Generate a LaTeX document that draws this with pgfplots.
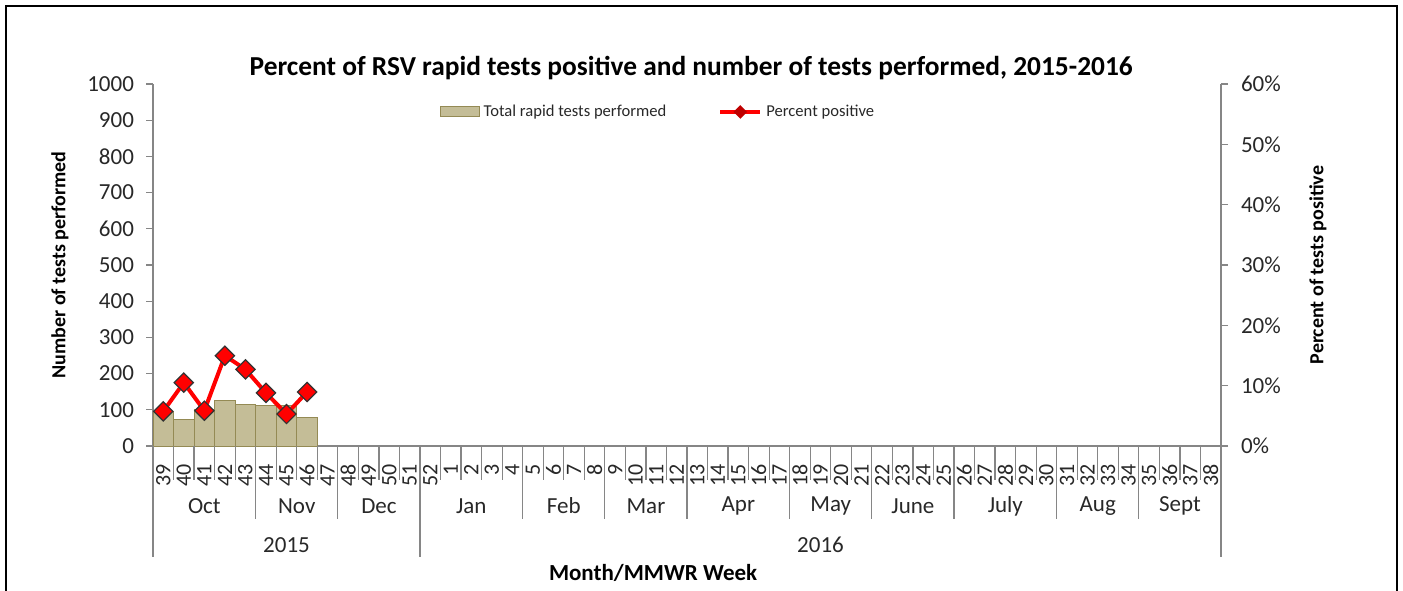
\documentclass[border=0pt]{standalone}
\usepackage{fontspec}
\setmainfont{Carlito}
\usepackage{pgfplots}
\pgfplotsset{compat=1.18}
\definecolor{tanfill}{RGB}{196,189,151}
\definecolor{tanedge}{RGB}{148,138,84}
\definecolor{axgray}{RGB}{134,134,134}
\definecolor{txt}{RGB}{40,40,40}
\begin{document}
\begin{tikzpicture}
\useasboundingbox (0,0) rectangle (701.5pt,295pt);
\draw[line width=1.2pt] (3pt,-2pt) -- (3pt,292pt) -- (698.5pt,292pt) -- (698.5pt,-2pt);
\pgfplotsset{
  common/.style={
    at={(76.5pt,72pt)}, anchor=south west,
    scale only axis, width=534pt, height=181pt,
    xmin=-0.5, xmax=51.5,
    clip=false,
    /pgf/number format/assume math mode=true,
    /pgf/number format/1000 sep={},
    axis line style={axgray, line width=0.6pt},
    tick align=outside,
    major tick length=3.5pt,
    every tick/.style={axgray, line width=0.6pt},
    yticklabel style={font=\fontsize{11.5}{13}\selectfont, text=txt},
  }
}
\begin{axis}[common,
  ymin=0, ymax=1000, ytick={0,100,...,1000},
  axis y line*=left, axis x line*=bottom,
  yticklabel style={xshift=-2.5pt},
  xtick={0,...,51},
  xticklabels={39,40,41,42,43,44,45,46,47,48,49,50,51,52,1,2,3,4,5,6,7,8,9,10,11,12,13,14,15,16,17,18,19,20,21,22,23,24,25,26,27,28,29,30,31,32,33,34,35,36,37,38},
  xtick style={draw=none},
  xticklabel style={rotate=90, anchor=east, font=\fontsize{11}{12}\selectfont, text=txt, xshift=-2pt},
  every axis y label/.style={at={(axis description cs:-0.0871,0.5)}, anchor=center, rotate=90, font=\bfseries\fontsize{10}{12}\selectfont},
  ylabel={Number of tests performed},
  title={Percent of RSV rapid tests positive and number of tests performed, 2015-2016},
  every axis title/.style={at={(axis description cs:0.504,1.044)}, anchor=center, font=\bfseries\fontsize{13.7}{16}\selectfont},
]
\addplot[ybar, bar width=1, fill=tanfill, draw=tanedge, line width=0.5pt]
  coordinates {(0,95) (1,74) (2,102) (3,127) (4,116) (5,113) (6,111) (7,79)};
\pgfplotsinvokeforeach{-0.5,0.5,...,51.5}{\draw[axgray, line width=0.6pt] (axis cs:#1,0) -- ([yshift=-17pt]axis cs:#1,0);}
\pgfplotsinvokeforeach{4.5,8.5,17.5,21.5,25.5,30.5,34.5,38.5,43.5,47.5}{\draw[axgray, line width=0.6pt] (axis cs:#1,0) -- ([yshift=-36.5pt]axis cs:#1,0);}
\pgfplotsinvokeforeach{-0.5,12.5,51.5}{\draw[axgray, line width=0.6pt] (axis cs:#1,0) -- ([yshift=-55.5pt]axis cs:#1,0);}
\tikzset{mlab/.style={font=\fontsize{11.5}{13}\selectfont, text=txt, anchor=center}}
\node[mlab] at ([yshift=-30pt]axis cs:2,0) {Oct};
\node[mlab] at ([yshift=-30pt]axis cs:6.5,0) {Nov};
\node[mlab] at ([yshift=-30pt]axis cs:10.5,0) {Dec};
\node[mlab] at ([yshift=-30pt]axis cs:15,0) {Jan};
\node[mlab] at ([yshift=-30pt]axis cs:19.5,0) {Feb};
\node[mlab] at ([yshift=-30pt]axis cs:23.5,0) {Mar};
\node[mlab] at ([yshift=-30pt]axis cs:28,0) {Apr};
\node[mlab] at ([yshift=-30pt]axis cs:32.5,0) {May};
\node[mlab] at ([yshift=-30pt]axis cs:36.5,0) {June};
\node[mlab] at ([yshift=-30pt]axis cs:41,0) {July};
\node[mlab] at ([yshift=-30pt]axis cs:45.5,0) {Aug};
\node[mlab] at ([yshift=-30pt]axis cs:49.5,0) {Sept};
\node[mlab] at ([yshift=-49.5pt]axis cs:6,0) {2015};
\node[mlab] at ([yshift=-49.5pt]axis cs:32,0) {2016};
\node[font=\bfseries\fontsize{11.5}{13}\selectfont, anchor=center] at ([yshift=-63.5pt]axis cs:23.85,0) {Month/MMWR Week};
\end{axis}
\begin{axis}[common,
  ymin=0, ymax=60, ytick={0,10,...,60},
  axis y line*=right, axis x line=none,
  yticklabel={\pgfmathprintnumber{\tick}\%},
  yticklabel style={xshift=3pt},
  every axis y label/.style={at={(axis description cs:1.0908,0.5)}, anchor=center, rotate=90, font=\bfseries\fontsize{10}{12}\selectfont},
  ylabel={Percent of tests positive},
  legend columns=2,
  legend style={draw=none, fill=none, at={(axis description cs:0.4737,0.9227)}, anchor=center,
    font=\fontsize{8.3}{10}\selectfont, text=txt,
    /tikz/every even column/.append style={column sep=24pt}},
]
\addlegendimage{legend image code/.code={\draw[fill=tanfill, draw=tanedge, line width=0.5pt] (0pt,-2.5pt) rectangle (19.5pt,2.5pt);}}
\addlegendentry{Total rapid tests performed}
\addplot[red, line width=2pt, mark=square*, mark size=3.4pt,
  mark options={rotate=45, fill=red, draw=black!80, line width=0.6pt},
  legend image code/.code={\draw[red, line width=2pt] (0pt,0pt) -- (20pt,0pt);
    \fill[red!75!black] (10pt,0pt) +(-2pt,0pt) -- +(0pt,2pt) -- +(2pt,0pt) -- +(0pt,-2pt) -- cycle;}]
  coordinates {(0,5.75) (1,10.5) (2,5.85) (3,14.97) (4,12.7) (5,8.8) (6,5.3) (7,8.95)};
\addlegendentry{Percent positive}
\end{axis}
\end{tikzpicture}
\end{document}
